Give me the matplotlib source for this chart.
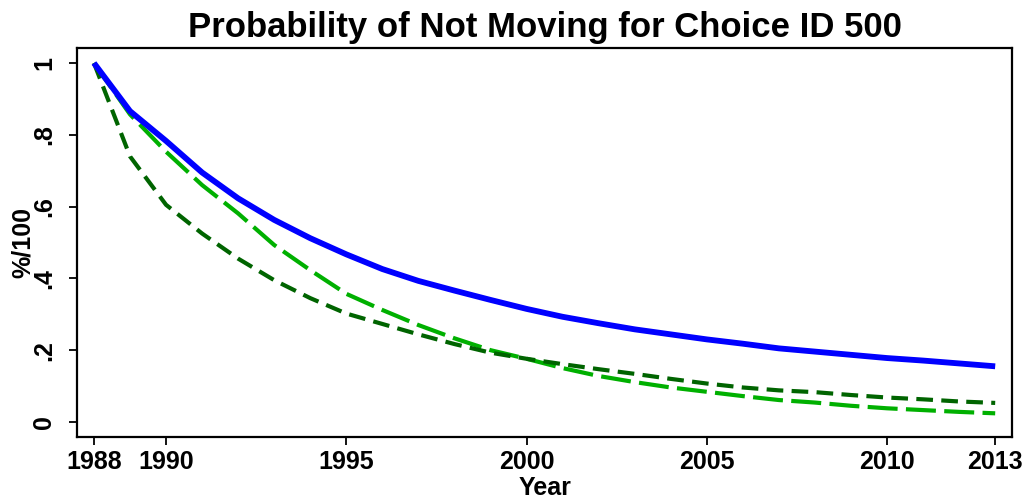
import matplotlib

matplotlib.use("Agg")
import matplotlib.pyplot as plt

# Yearly probability of not moving, one value per year 1988-2013
years = list(range(1988, 2014))
prob_solid = [
    1.0, 0.866, 0.783, 0.695, 0.623, 0.563, 0.512, 0.467, 0.426, 0.393,
    0.366, 0.340, 0.315, 0.293, 0.275, 0.258, 0.244, 0.230, 0.218, 0.205,
    0.196, 0.187, 0.178, 0.171, 0.163, 0.155,
]
prob_long_dash = [
    1.0, 0.857, 0.753, 0.660, 0.581, 0.493, 0.423, 0.357, 0.312, 0.270,
    0.233, 0.200, 0.176, 0.150, 0.128, 0.111, 0.096, 0.084, 0.072, 0.061,
    0.054, 0.045, 0.038, 0.033, 0.028, 0.024,
]
prob_short_dash = [
    1.0, 0.740, 0.605, 0.525, 0.455, 0.395, 0.345, 0.302, 0.273, 0.244,
    0.217, 0.193, 0.176, 0.161, 0.147, 0.134, 0.120, 0.107, 0.096, 0.088,
    0.083, 0.075, 0.068, 0.063, 0.057, 0.053,
]

x_ticks = [1988, 1990, 1995, 2000, 2005, 2010, 2013]
y_ticks = [0, 0.2, 0.4, 0.6, 0.8, 1.0]
y_tick_labels = ["0", ".2", ".4", ".6", ".8", "1"]


def plot_probability(ax):
    ax.plot(years, prob_solid, color="#0000ff", lw=4.2,
            solid_capstyle="butt", zorder=3)
    ax.plot(years, prob_long_dash, color="#00b000", lw=3.0,
            dashes=(7.2, 2.0), zorder=2)
    ax.plot(years, prob_short_dash, color="#006400", lw=3.0,
            dashes=(4.0, 2.0), zorder=2)

    ax.set_xlim(1987.53, 2013.47)
    ax.set_ylim(-0.042, 1.042)

    ax.set_xticks(x_ticks)
    ax.set_xticklabels([str(t) for t in x_ticks], fontsize=18,
                       fontweight="bold")
    ax.set_yticks(y_ticks)
    ax.set_yticklabels(y_tick_labels, fontsize=18, fontweight="bold",
                       rotation=90, va="center")

    ax.tick_params(axis="x", direction="out", length=6, width=1.3, pad=3)
    ax.tick_params(axis="y", direction="out", length=6, width=1.3, pad=9)
    for spine in ax.spines.values():
        spine.set_linewidth(1.6)

    ax.set_xlabel("Year", fontsize=18, fontweight="bold", labelpad=2)
    ax.set_ylabel("%/100", fontsize=18, fontweight="bold")
    ax.yaxis.set_label_coords(-0.045, 0.5)
    ax.set_title("Probability of Not Moving for Choice ID 500",
                 fontsize=25, fontweight="bold", pad=8)


def main():
    plt.rcParams["font.family"] = ["Liberation Sans", "DejaVu Sans"]
    fig = plt.figure(figsize=(10.31, 5.03), dpi=100)
    ax = fig.add_axes([0.0747, 0.1312, 0.907, 0.7734])
    plot_probability(ax)
    fig.savefig("out.png", dpi=100)


if __name__ == "__main__":
    main()
